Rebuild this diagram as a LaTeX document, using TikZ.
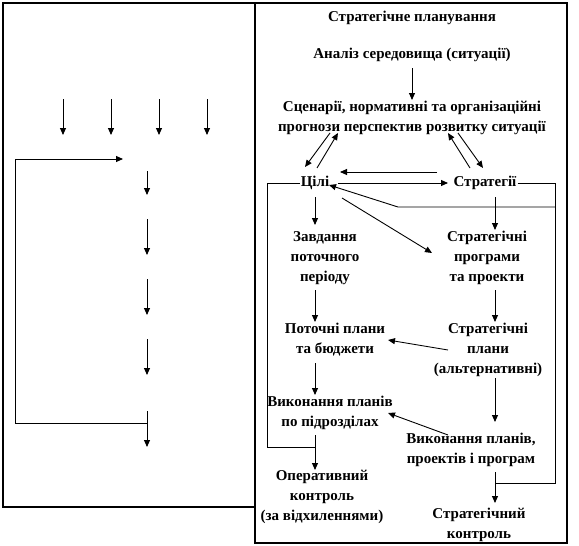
\documentclass[tikz,border=0pt]{standalone}
\usepackage{fontspec}
\setmainfont{Liberation Serif}
\usetikzlibrary{arrows.meta,calc}
\begin{document}
\begin{tikzpicture}[x=1pt,y=-1pt,
  arr/.style={-{Triangle[length=7pt,width=6pt]}, line width=0.9pt},
  ln/.style={line width=0.9pt},
  frame/.style={line width=1.3pt},
  lbl/.style={font=\bfseries\fontsize{15}{20}\selectfont, align=center, inner sep=1pt}]
\useasboundingbox (0,0) rectangle (579,546);
\draw[frame] (3,3) rectangle (255,507);
\draw[frame] (255,3) rectangle (567,543);

% ---------- right panel nodes
\node[lbl] (title) at (412,18) {Стратегічне планування};
\node[lbl] (analiz) at (412,55) {Аналіз середовища (ситуації)};
\node[lbl] (scen) at (412,118) {Сценарії, нормативні та організаційні\\прогнози перспектив розвитку ситуації};
\node[lbl] (cili) at (315,183) {Цілі};
\node[lbl] (strat) at (485,183) {Стратегії};
\node[lbl] (zavd) at (325,258) {Завдання\\поточного\\періоду};
\node[lbl] (sprog) at (487,258) {Стратегічні\\програми\\та проекти};
\node[lbl] (potoch) at (335,340) {Поточні плани\\та бюджети};
\node[lbl] (splany) at (488,350) {Стратегічні\\плани\\(альтернативні)};
\node[lbl] (vykon) at (330,413) {Виконання планів\\по підрозділах};
\node[lbl] (vykon2) at (471,450) {Виконання планів,\\проектів і програм};
\node[lbl] (oper) at (322,497) {Оперативний\\контроль\\(за відхиленнями)};
\node[lbl] (skontr) at (479,525) {Стратегічний\\контроль};

% ---------- helper coordinates
\coordinate (a1) at (330,133); \coordinate (a2) at (305,167);
\coordinate (b1) at (317,168); \coordinate (b2) at (338,133);
\coordinate (c1) at (470,168); \coordinate (c2) at (448,133);
\coordinate (d1) at (458,133); \coordinate (d2) at (483,168);
\coordinate (u1) at (437,172); \coordinate (u2) at (340,172);
\coordinate (h1) at (338,183); \coordinate (h2) at (448,183);
\coordinate (g1) at (342,198); \coordinate (g2) at (432,253);
\coordinate (r1) at (555,207); \coordinate (r2) at (398,207); \coordinate (r3) at (329,185);
\coordinate (ll1) at (267,183); \coordinate (ll2) at (267,447); \coordinate (ll3) at (315,447);
\coordinate (rl1) at (555,183); \coordinate (rl2) at (555,483); \coordinate (rl3) at (495,483);

% ---------- right panel connectors
\draw[arr] (412,68) -- (412,100);
\draw[arr] (a1) -- (a2);
\draw[arr] (b1) -- (b2);
\draw[arr] (c1) -- (c2);
\draw[arr] (d1) -- (d2);
\draw[arr] (u1) -- (u2);
\draw[arr] (h1) -- (h2);
\draw[arr] (g1) -- (g2);
\draw[arr] (r1) -- (r2) -- (r3);
\draw[ln] (cili.west) -- (ll1) -- (ll2) -- (ll3);
\draw[ln] (strat.east) -- (rl1) -- (rl2) -- (rl3);

\draw[arr] (315,197) -- (315,225);
\draw[arr] (315,290) -- (315,322);
\draw[arr] (315,363) -- (315,395);
\draw[arr] (315,435) -- (315,470);
\draw[arr] (495,197) -- (495,230);
\draw[arr] (495,290) -- (495,322);
\draw[arr] (495,378) -- (495,422);
\draw[arr] (495,472) -- (495,503);
\draw[arr] (448,350) -- (388,340);
\draw[arr] (448,435) -- (388,413);

% ---------- left panel
\foreach \x in {63,111,159,207} \draw[arr] (\x,99) -- (\x,135);
\draw[arr] (147,423) -- (15,423) -- (15,159) -- (123,159);
\draw[arr] (147,171) -- (147,195);
\draw[arr] (147,219) -- (147,255);
\draw[arr] (147,279) -- (147,315);
\draw[arr] (147,339) -- (147,375);
\draw[arr] (147,411) -- (147,447);
\end{tikzpicture}
\end{document}
